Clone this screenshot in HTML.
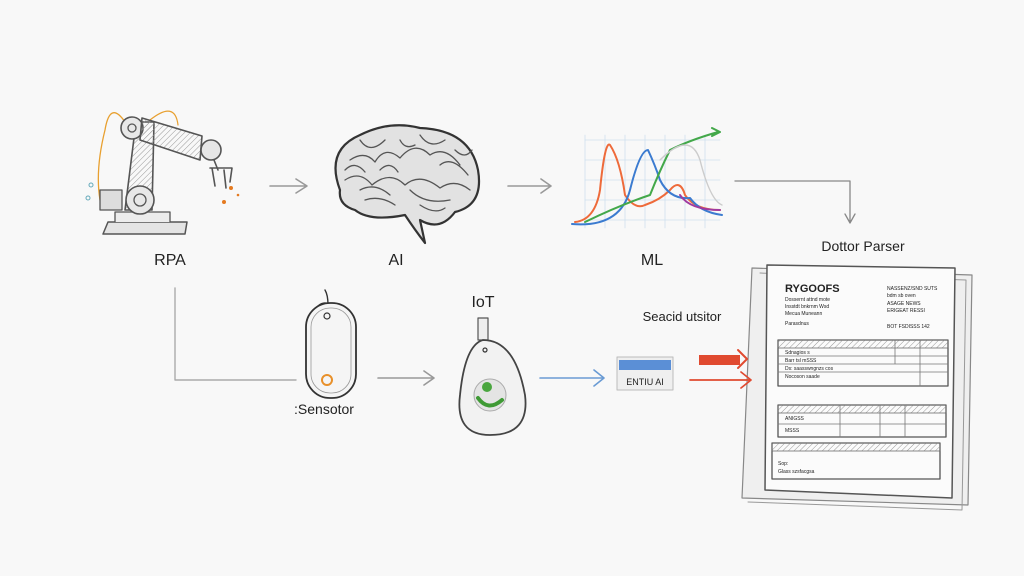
<!DOCTYPE html>
<html><head><meta charset="utf-8"><style>
html,body{margin:0;padding:0;background:#f8f8f8;}
svg{display:block}
text{font-family:"Liberation Sans",sans-serif;fill:#222}
</style></head><body>
<svg width="1024" height="576" viewBox="0 0 1024 576" xmlns="http://www.w3.org/2000/svg">
<defs>
<pattern id="h" width="4" height="4" patternUnits="userSpaceOnUse" patternTransform="rotate(45)"><line x1="0" y1="0" x2="0" y2="4" stroke="#999" stroke-width="1"/></pattern>
</defs>
<rect width="1024" height="576" fill="#f8f8f8"/>
<g fill="none" stroke="#555" stroke-linecap="round" stroke-linejoin="round">
<!-- Robot arm -->
<path d="M125 122 Q110 100 105 130 Q95 170 100 200 Q103 215 112 205" stroke="#e8a030" stroke-width="1.3"/>
<path d="M150 120 Q175 100 178 125" stroke="#e8a030" stroke-width="1.2"/>
<path d="M103 234 L185 234 L187 222 L108 222 Z" fill="#e4e4e4" stroke-width="1.5"/>
<path d="M115 222 L115 212 L170 212 L170 222" fill="#ececec" stroke-width="1.3"/>
<rect x="100" y="190" width="22" height="20" fill="#ddd" stroke-width="1.3"/>
<path d="M125 210 L136 122 L154 122 L152 210 Z" fill="url(#h)" stroke-width="1.6"/>
<circle cx="140" cy="200" r="14" fill="#e8e8e8" stroke-width="1.6"/>
<circle cx="140" cy="200" r="6" stroke-width="1.3"/>
<circle cx="132" cy="128" r="11" fill="#e8e8e8" stroke-width="1.6"/>
<circle cx="132" cy="128" r="4" stroke-width="1.3"/>
<path d="M142 118 L202 136 L200 160 L140 140 Z" fill="url(#h)" stroke-width="1.6"/>
<circle cx="211" cy="150" r="10" fill="#e6e6e6" stroke-width="1.6"/>
<path d="M214 160 L218 170 M210 168 L232 168 L230 182 M212 168 L215 186 M224 170 L226 188" stroke-width="1.6"/>
<circle cx="231" cy="188" r="2" fill="#e57a20" stroke="none"/><circle cx="224" cy="202" r="2" fill="#e57a20" stroke="none"/><circle cx="238" cy="195" r="1.3" fill="#e57a20" stroke="none"/>
<circle cx="91" cy="185" r="2" stroke="#6ab" /><circle cx="88" cy="198" r="2" stroke="#6ab"/>
<!-- arrow 1 -->
<path d="M270 186 L306 186 M296 179 L307 186 L296 193" stroke="#999" stroke-width="1.6"/>
<!-- Brain -->
<path d="M340 190 Q325 150 360 135 Q390 120 420 128 Q470 130 478 170 Q484 205 455 212 Q440 232 420 220 L425 243 Q415 230 405 215 Q370 222 355 210 Q338 205 340 190 Z" fill="#e2e2e2" stroke="#333" stroke-width="2.2"/>
<path d="M350 160 Q365 150 375 162 Q385 145 400 158 Q415 140 430 155 Q445 145 460 165 M345 180 Q360 170 372 185 Q390 170 405 185 Q420 172 440 188 Q455 178 470 190 M365 200 Q380 195 395 205 M410 190 Q425 205 450 200 M360 140 Q370 155 385 140 M420 135 Q430 150 445 140 M345 170 Q355 160 365 172 M380 170 Q390 160 398 172 M440 165 Q452 155 468 175 M400 140 Q405 150 415 145 M360 190 Q375 182 390 195 M420 205 Q435 215 445 208 M455 150 Q465 160 472 150" stroke="#555" stroke-width="1.3"/>
<!-- arrow 2 -->
<path d="M508 186 L550 186 M541 179 L551 186 L541 193" stroke="#999" stroke-width="1.6"/>
<!-- Chart -->
<g stroke="#cfe0ee" stroke-width="0.8">
<path d="M585 135 L585 228 M605 135 L605 228 M625 135 L625 228 M645 135 L645 228 M665 135 L665 228 M685 135 L685 228 M705 135 L705 228"/>
<path d="M585 140 L720 140 M585 160 L720 160 M585 180 L720 180 M585 200 L720 200 M585 220 L720 220"/>
</g>
<path d="M575 222 Q595 220 600 190 Q605 140 610 145 Q620 160 625 195 Q635 210 645 205 Q660 200 670 190 Q680 178 685 195 Q695 210 720 210" stroke="#ee6a3a" stroke-width="2"/>
<path d="M572 224 Q620 228 630 190 Q640 150 648 150 Q655 165 660 180 Q670 200 690 198 Q700 212 722 215" stroke="#3b7bd0" stroke-width="2"/>
<path d="M585 222 Q620 205 650 195 Q660 170 670 150 Q690 140 718 132 M712 128 L720 132 L712 136" stroke="#43a84a" stroke-width="2"/>
<path d="M680 195 Q690 210 720 210" stroke="#a03aa0" stroke-width="2"/>
<path d="M660 160 Q690 130 700 160 Q710 200 722 205" stroke="#ccc" stroke-width="1.4"/>
<!-- connector ML -> parser -->
<path d="M735 181 L850 181 L850 222 M845 214 L850 223 L855 214" stroke="#888" stroke-width="1.3"/>
<!-- Document -->
<path d="M742 498 L968 505 L972 275 L752 268 Z" fill="#efefef" stroke="#888" stroke-width="1.2"/>
<path d="M748 502 L962 510 L966 280 L760 273" stroke="#999" stroke-width="1"/>
<path d="M765 490 L952 498 L955 268 L767 265 Z" fill="#fbfbfb" stroke="#555" stroke-width="1.5"/>
<rect x="778" y="340" width="170" height="46" stroke="#555" stroke-width="1.3"/>
<rect x="778" y="340" width="170" height="8" fill="url(#h)" stroke="#666" stroke-width="0.8"/>
<path d="M778 356 L948 356 M778 364 L948 364 M778 372 L948 372 M920 340 L920 386 M895 340 L895 364" stroke="#777" stroke-width="0.8"/>
<rect x="778" y="405" width="168" height="32" stroke="#555" stroke-width="1.3"/>
<rect x="778" y="405" width="168" height="8" fill="url(#h)" stroke="#666" stroke-width="0.8"/>
<path d="M778 424 L946 424 M840 405 L840 437 M880 405 L880 437 M905 405 L905 437" stroke="#777" stroke-width="0.8"/>
<rect x="772" y="443" width="168" height="36" stroke="#555" stroke-width="1.3"/>
<rect x="772" y="443" width="168" height="8" fill="url(#h)" stroke="#666" stroke-width="0.8"/>
<!-- RPA down connector -->
<path d="M175 288 L175 380 L296 380" stroke="#aaa" stroke-width="1.4"/>
<!-- Sensor tag -->
<path d="M328 305 Q328 295 325 290 M318 306 Q325 300 332 306" stroke="#333" stroke-width="1.4"/>
<rect x="306" y="303" width="50" height="95" rx="24" fill="#f5f5f5" stroke="#333" stroke-width="1.8"/>
<rect x="311" y="308" width="40" height="85" rx="19" stroke="#999" stroke-width="0.8"/>
<circle cx="327" cy="316" r="3" stroke="#333" stroke-width="1.2"/>
<circle cx="327" cy="380" r="5" stroke="#e8902a" stroke-width="2"/>
<!-- arrow 3 -->
<path d="M378 378 L433 378 M424 371 L434 378 L424 385" stroke="#999" stroke-width="1.6"/>
<!-- IoT device -->
<rect x="478" y="318" width="10" height="22" fill="#eee" stroke="#555" stroke-width="1.2"/>
<path d="M483 340 Q515 340 525 395 Q530 435 490 435 Q455 435 460 395 Q465 345 483 340 Z" fill="#f2f2f2" stroke="#444" stroke-width="1.8"/>
<circle cx="485" cy="350" r="2" stroke="#333" stroke-width="1.2"/>
<circle cx="490" cy="395" r="16" fill="#e4e4e4" stroke="#aaa" stroke-width="1"/>
<path d="M478 398 Q488 412 502 400" stroke="#3f9a35" stroke-width="4"/>
<circle cx="487" cy="387" r="5" fill="#4aa63f" stroke="none"/>
<!-- blue arrow -->
<path d="M540 378 L603 378 M594 370 L604 378 L594 386" stroke="#6a9bd4" stroke-width="1.6"/>
<rect x="617" y="357" width="56" height="33" fill="#efefef" stroke="#bbb" stroke-width="1"/>
<rect x="619" y="360" width="52" height="10" fill="#5b8fd6" stroke="none"/>
<!-- red arrows -->
<path d="M699 355 L740 355 L740 365 L699 365 Z" fill="#e04a30" stroke="none"/>
<path d="M738 350 L747 359 L738 368" stroke="#e04a30" stroke-width="2"/>
<path d="M690 380 L750 380 M741 372 L751 380 L741 388" stroke="#e04a30" stroke-width="1.7"/>
</g>
<text x="170" y="265" font-size="16" text-anchor="middle">RPA</text>
<text x="396" y="265" font-size="16" text-anchor="middle">AI</text>
<text x="652" y="265" font-size="16" text-anchor="middle">ML</text>
<text x="863" y="251" font-size="14" text-anchor="middle">Dottor Parser</text>
<text x="483" y="307" font-size="16" text-anchor="middle">IoT</text>
<text x="682" y="321" font-size="13" text-anchor="middle">Seacid utsitor</text>
<text x="324" y="414" font-size="14" text-anchor="middle">:Sensotor</text>
<text x="645" y="385" font-size="9" text-anchor="middle" fill="#666">ENTIU AI</text>
<text x="785" y="292" font-size="11" font-weight="bold">RYGOOFS</text>
<g font-size="5" fill="#444">
<text x="785" y="301">Dossernt attnd mote</text><text x="785" y="308">Insstdt bnkrnm Wsd</text><text x="785" y="315">Mecua Muneann</text><text x="785" y="325">Parasdnus</text>
<text x="887" y="290">NASSENZ/SND SUTS</text><text x="887" y="297">bdm sb oven</text><text x="887" y="305">ASAGE NEWS</text><text x="887" y="312">ERIGEAT RESSI</text><text x="887" y="328">BOT FSDISSS 142</text>
<text x="785" y="354">Sdnagios s</text><text x="785" y="362">Barr tsl mSSS</text><text x="785" y="370">Ds: saasswngnzs cos</text><text x="785" y="378">Nocoson saade</text>
<text x="785" y="420">ANIGSS</text><text x="785" y="432">MSSS</text><text x="778" y="465">Sop:</text><text x="778" y="473">Glass szsfacgsa</text>
</g>
</svg>
</body></html>
